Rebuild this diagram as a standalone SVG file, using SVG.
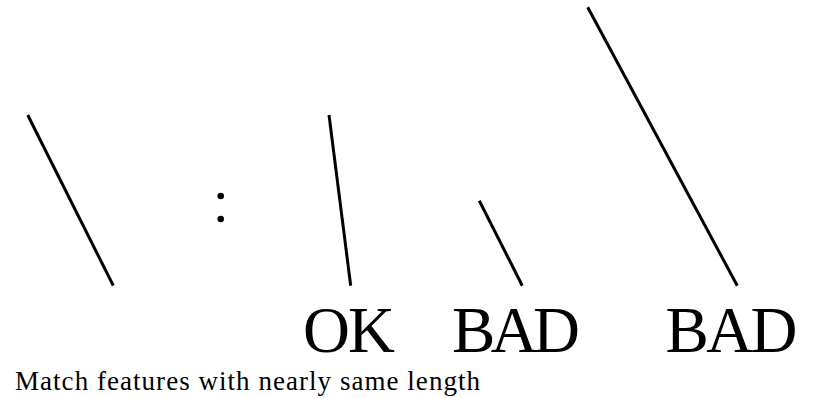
<svg xmlns="http://www.w3.org/2000/svg" width="818" height="398" viewBox="0 0 818 398">
<style>
.seg{stroke:#000;stroke-width:3;fill:none}
text{font-family:'Liberation Serif','DejaVu Serif',serif;fill:#000}
.big{font-size:65px}
.cap{font-size:27px}
</style>
<rect width="818" height="398" fill="#fff"/>
<g id="connectors">
<line id="seg1" class="seg" x1="27.7" y1="115" x2="113.3" y2="285.7"/>
<line id="seg2" class="seg" x1="329" y1="115" x2="350.7" y2="285.7"/>
<line id="seg3" class="seg" x1="479.3" y1="200.7" x2="522.3" y2="285.7"/>
<line id="seg4" class="seg" x1="587.7" y1="7.3" x2="737.3" y2="285.7"/>
</g>
<g id="colon">
<circle cx="220.7" cy="196" r="3.3" fill="#000"/>
<circle cx="220.7" cy="219" r="3.3" fill="#000"/>
</g>
<g id="label-ok"><text class="big" font-family="Liberation Serif, DejaVu Serif, serif" x="303" y="352" textLength="92" lengthAdjust="spacing">OK</text></g>
<g id="label-bad1"><text class="big" font-family="Liberation Serif, DejaVu Serif, serif" x="452" y="352" textLength="128" lengthAdjust="spacing">BAD</text></g>
<g id="label-bad2"><text class="big" font-family="Liberation Serif, DejaVu Serif, serif" x="665.5" y="352" textLength="132" lengthAdjust="spacing">BAD</text></g>
<g id="caption"><text class="cap" font-family="Liberation Serif, DejaVu Serif, serif" x="15" y="389.5" textLength="465" lengthAdjust="spacing">Match features with nearly same length</text></g>
</svg>
